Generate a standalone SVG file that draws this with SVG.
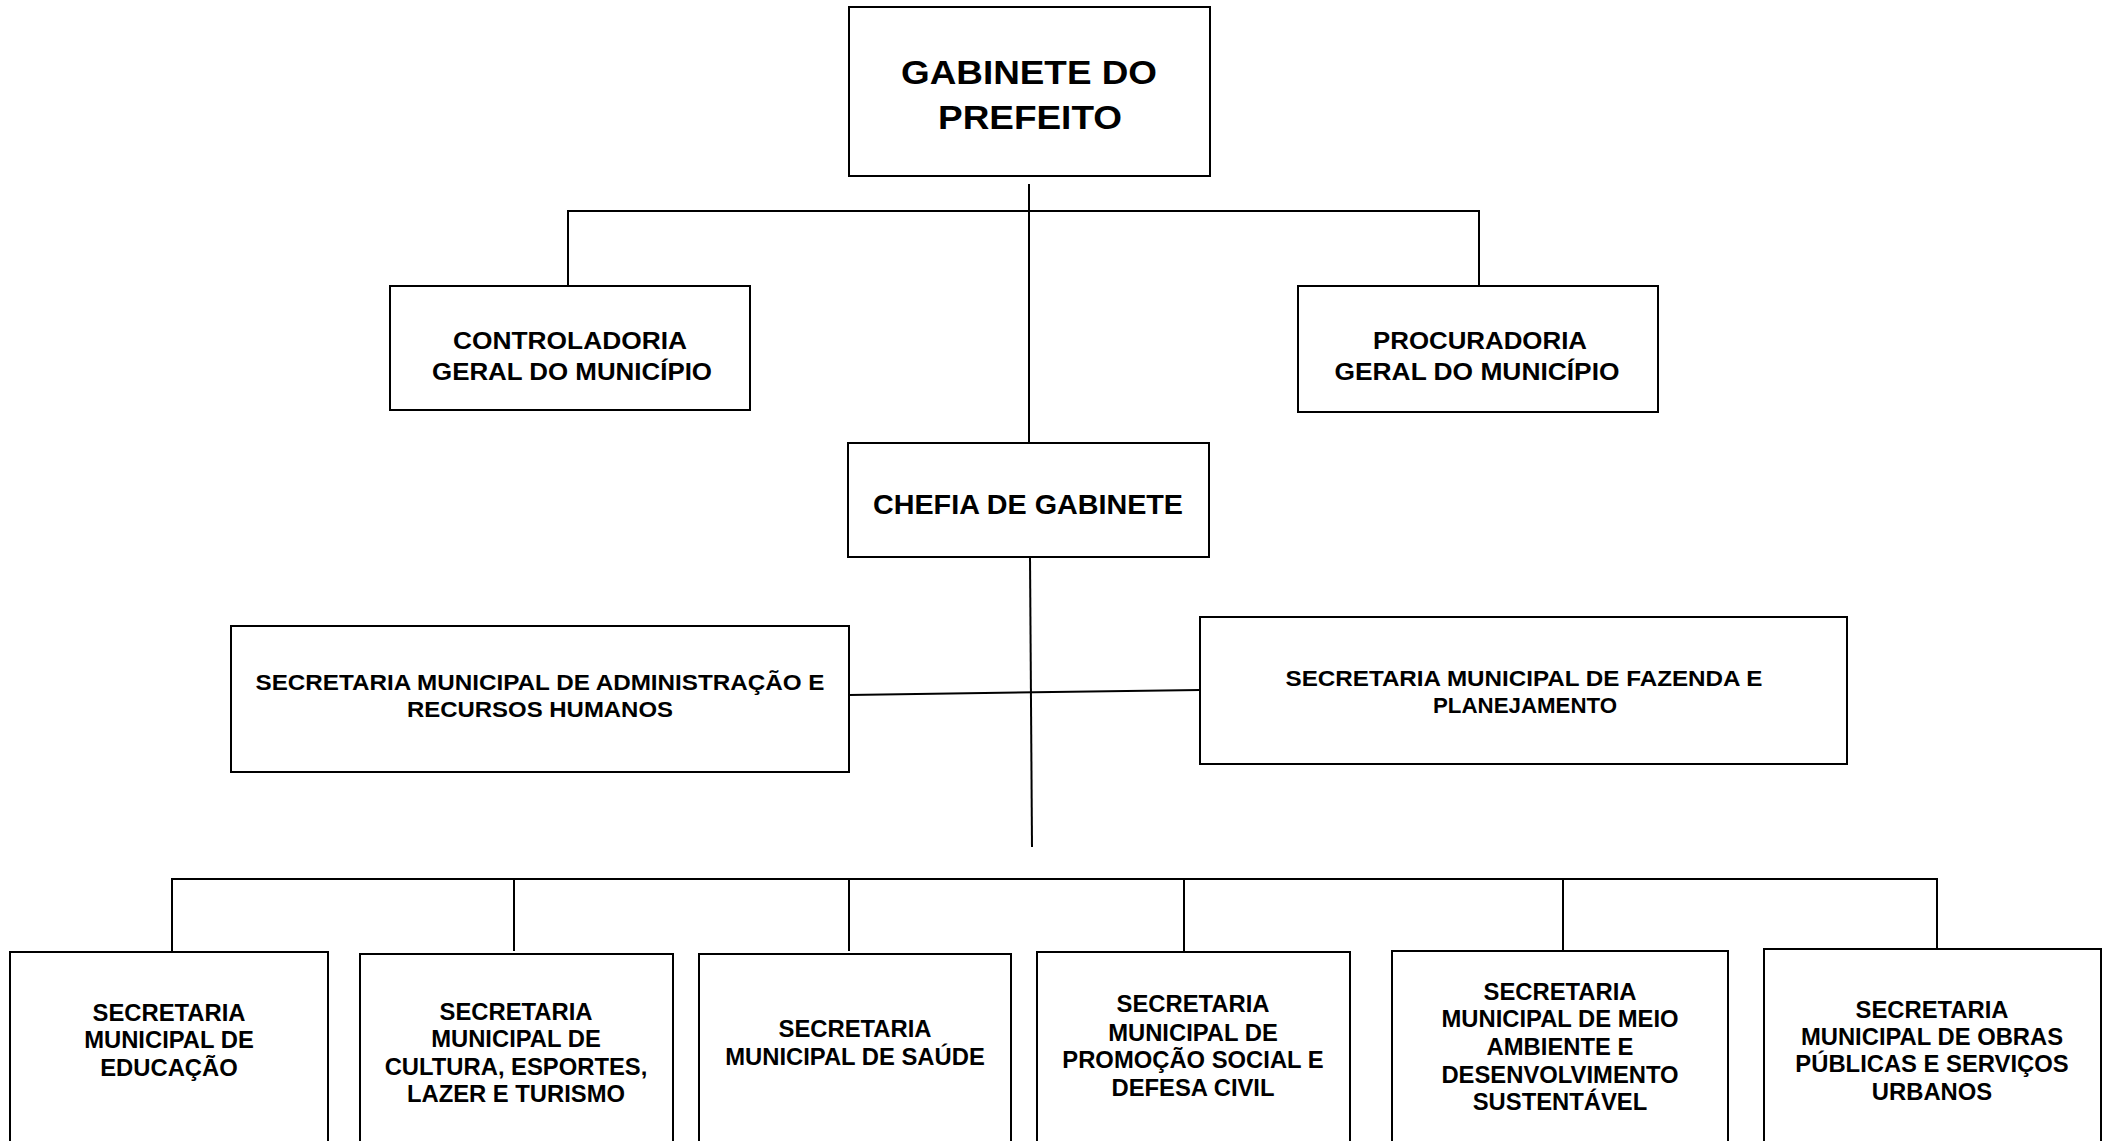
<svg xmlns="http://www.w3.org/2000/svg" width="2105" height="1141" viewBox="0 0 2105 1141">
<style>
.box{fill:#fff;stroke:#000;stroke-width:2}
.t{font-family:"Liberation Sans",Arial,sans-serif;font-weight:bold;fill:#000;text-anchor:middle}
.c{stroke:#000;stroke-width:2;fill:none}
.b{font-size:23.8px}
</style>
<rect width="2105" height="1141" fill="#fff"/>
<g id="connectors">
<line class="c" x1="1029" y1="184" x2="1029" y2="443"/>
<polyline class="c" points="568,286 568,211 1479,211 1479,286"/>
<line class="c" x1="849" y1="695" x2="1200" y2="690"/>
<line class="c" x1="1030" y1="557" x2="1032" y2="847"/>
<line class="c" x1="171" y1="879" x2="1938" y2="879" stroke-width="2.5"/>
<line class="c" x1="172" y1="879" x2="172" y2="952"/>
<line class="c" x1="514" y1="879" x2="514" y2="951"/>
<line class="c" x1="849" y1="879" x2="849" y2="951"/>
<line class="c" x1="1184" y1="879" x2="1184" y2="951"/>
<line class="c" x1="1563" y1="879" x2="1563" y2="951"/>
<line class="c" x1="1937" y1="879" x2="1937" y2="949"/>
</g>
<g id="gabinete">
<rect class="box" x="849" y="7" width="361" height="169"/>
<text class="t" font-size="34" x="1029" y="84" textLength="256" lengthAdjust="spacingAndGlyphs">GABINETE DO</text>
<text class="t" font-size="34" x="1030" y="129" textLength="184" lengthAdjust="spacingAndGlyphs">PREFEITO</text>
</g>
<g id="controladoria">
<rect class="box" x="390" y="286" width="360" height="124"/>
<text class="t" font-size="24" x="570" y="349" textLength="234" lengthAdjust="spacingAndGlyphs">CONTROLADORIA</text>
<text class="t" font-size="24" x="572" y="380" textLength="280" lengthAdjust="spacingAndGlyphs">GERAL DO MUNICÍPIO</text>
</g>
<g id="procuradoria">
<rect class="box" x="1298" y="286" width="360" height="126"/>
<text class="t" font-size="24" x="1480" y="349" textLength="214" lengthAdjust="spacingAndGlyphs">PROCURADORIA</text>
<text class="t" font-size="24" x="1477" y="380" textLength="285" lengthAdjust="spacingAndGlyphs">GERAL DO MUNICÍPIO</text>
</g>
<g id="chefia">
<rect class="box" x="848" y="443" width="361" height="114"/>
<text class="t" font-size="28.5" x="1028" y="514" textLength="310" lengthAdjust="spacingAndGlyphs">CHEFIA DE GABINETE</text>
</g>
<g id="administracao">
<rect class="box" x="231" y="626" width="618" height="146"/>
<text class="t" font-size="22" x="540" y="690" textLength="569" lengthAdjust="spacingAndGlyphs">SECRETARIA MUNICIPAL DE ADMINISTRAÇÃO E</text>
<text class="t" font-size="22" x="540" y="717" textLength="266" lengthAdjust="spacingAndGlyphs">RECURSOS HUMANOS</text>
</g>
<g id="fazenda">
<rect class="box" x="1200" y="617" width="647" height="147"/>
<text class="t" font-size="22" x="1524" y="686" textLength="477" lengthAdjust="spacingAndGlyphs">SECRETARIA MUNICIPAL DE FAZENDA E</text>
<text class="t" font-size="22" x="1525" y="713" textLength="184" lengthAdjust="spacingAndGlyphs">PLANEJAMENTO</text>
</g>
<g id="educacao">
<rect class="box" x="10" y="952" width="318" height="210"/>
<text class="t b" x="169" y="1021">SECRETARIA</text>
<text class="t b" x="169" y="1048">MUNICIPAL DE</text>
<text class="t b" x="169" y="1076">EDUCAÇÃO</text>
</g>
<g id="cultura">
<rect class="box" x="360" y="954" width="313" height="210"/>
<text class="t b" x="516" y="1020">SECRETARIA</text>
<text class="t b" x="516" y="1047">MUNICIPAL DE</text>
<text class="t b" x="516" y="1075">CULTURA, ESPORTES,</text>
<text class="t b" x="516" y="1102">LAZER E TURISMO</text>
</g>
<g id="saude">
<rect class="box" x="699" y="954" width="312" height="210"/>
<text class="t b" x="855" y="1037">SECRETARIA</text>
<text class="t b" x="855" y="1065">MUNICIPAL DE SAÚDE</text>
</g>
<g id="promocao">
<rect class="box" x="1037" y="952" width="313" height="210"/>
<text class="t b" x="1193" y="1012">SECRETARIA</text>
<text class="t b" x="1193" y="1041">MUNICIPAL DE</text>
<text class="t b" x="1193" y="1068">PROMOÇÃO SOCIAL E</text>
<text class="t b" x="1193" y="1096">DEFESA CIVIL</text>
</g>
<g id="meio-ambiente">
<rect class="box" x="1392" y="951" width="336" height="210"/>
<text class="t b" x="1560" y="1000">SECRETARIA</text>
<text class="t b" x="1560" y="1027">MUNICIPAL DE MEIO</text>
<text class="t b" x="1560" y="1055">AMBIENTE E</text>
<text class="t b" x="1560" y="1083">DESENVOLVIMENTO</text>
<text class="t b" x="1560" y="1110">SUSTENTÁVEL</text>
</g>
<g id="obras">
<rect class="box" x="1764" y="949" width="337" height="212"/>
<text class="t b" x="1932" y="1018">SECRETARIA</text>
<text class="t b" x="1932" y="1045">MUNICIPAL DE OBRAS</text>
<text class="t b" x="1932" y="1072">PÚBLICAS E SERVIÇOS</text>
<text class="t b" x="1932" y="1100">URBANOS</text>
</g>
</svg>
